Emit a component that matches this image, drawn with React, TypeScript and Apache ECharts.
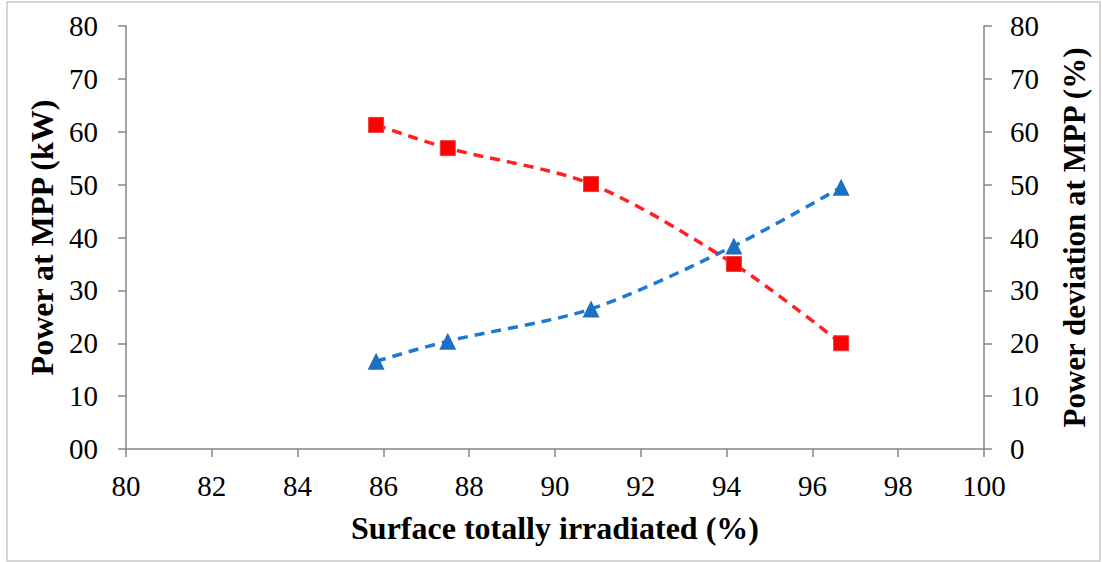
import React, { useEffect, useRef } from "react";
import * as echarts from "echarts";

const surfaceIrradiated = [85.83, 87.5, 90.84, 94.17, 96.67];
const powerAtMPP = [16.6, 20.4, 26.5, 38.4, 49.5];
const powerDeviation = [61.3, 56.9, 50.1, 35.0, 20.0];
const xTicks = { min: 80, max: 100, interval: 2 };
const yTicks = { min: 0, max: 80, interval: 10 };

const FONT = "Liberation Serif";

export default function App() {
  const ref = useRef<HTMLDivElement>(null);
  useEffect(() => {
    document.body.style.margin = "0";
    const chart = echarts.init(ref.current!, null, { renderer: "svg" });
    const axisLine = { show: true, lineStyle: { color: "#868686", width: 1.5 } };
    const axisTick = { show: true, length: 8, inside: false, lineStyle: { color: "#868686", width: 1.5 } };
    const label = { color: "#000", fontFamily: FONT, fontSize: 29 };
    const nameStyle = { color: "#000", fontFamily: FONT, fontSize: 32, fontWeight: "bold" as const };
    chart.setOption({
      animation: false,
      backgroundColor: "#fff",
      grid: { left: 126, right: 118, top: 26, bottom: 113, containLabel: false, outerBoundsMode: "none" },
      graphic: [
        {
          type: "rect",
          shape: { x: 7, y: 2, width: 1093, height: 559 },
          style: { fill: "none", stroke: "#c8c8c8", lineWidth: 1.5 },
          silent: true,
        },
      ],
      xAxis: {
        type: "value",
        min: xTicks.min,
        max: xTicks.max,
        interval: xTicks.interval,
        axisLine,
        axisTick,
        splitLine: { show: false },
        axisLabel: { ...label, margin: 22 },
        name: "Surface totally irradiated (%)",
        nameLocation: "middle",
        nameGap: 63,
        nameTextStyle: nameStyle,
      },
      yAxis: [
        {
          type: "value",
          position: "left",
          min: yTicks.min,
          max: yTicks.max,
          interval: yTicks.interval,
          axisLine,
          axisTick,
          splitLine: { show: false },
          axisLabel: { ...label, margin: 28, formatter: (v: number) => (v === 0 ? "00" : String(v)) },
          name: "Power at MPP (kW)",
          nameLocation: "middle",
          nameRotate: 90,
          nameGap: 67,
          nameTextStyle: nameStyle,
        },
        {
          type: "value",
          position: "right",
          min: yTicks.min,
          max: yTicks.max,
          interval: yTicks.interval,
          axisLine,
          axisTick,
          splitLine: { show: false },
          axisLabel: { ...label, margin: 26 },
          name: "Power deviation at MPP (%)",
          nameLocation: "middle",
          nameRotate: 90,
          nameGap: 75,
          nameTextStyle: { ...nameStyle, fontSize: 31 },
        },
      ],
      series: [
        {
          name: "Power at MPP",
          type: "line",
          yAxisIndex: 0,
          data: surfaceIrradiated.map((x, i) => [x, powerAtMPP[i]]),
          smooth: 0.3,
          symbol: "triangle",
          symbolSize: 17,
          itemStyle: { color: "#1c6fc2" },
          lineStyle: { color: "#1c7ad4", width: 3.5, type: [10, 7] },
        },
        {
          name: "Power deviation at MPP",
          type: "line",
          yAxisIndex: 1,
          data: surfaceIrradiated.map((x, i) => [x, powerDeviation[i]]),
          smooth: 0.3,
          symbol: "rect",
          symbolSize: 15,
          itemStyle: { color: "#ff0000", borderColor: "#e04040", borderWidth: 1 },
          lineStyle: { color: "#ff2020", width: 3.5, type: [10, 7] },
        },
      ],
    });
    return () => chart.dispose();
  }, []);
  return <div ref={ref} style={{ width: 1102, height: 562, position: "absolute", left: 0, top: 0 }} />;
}
